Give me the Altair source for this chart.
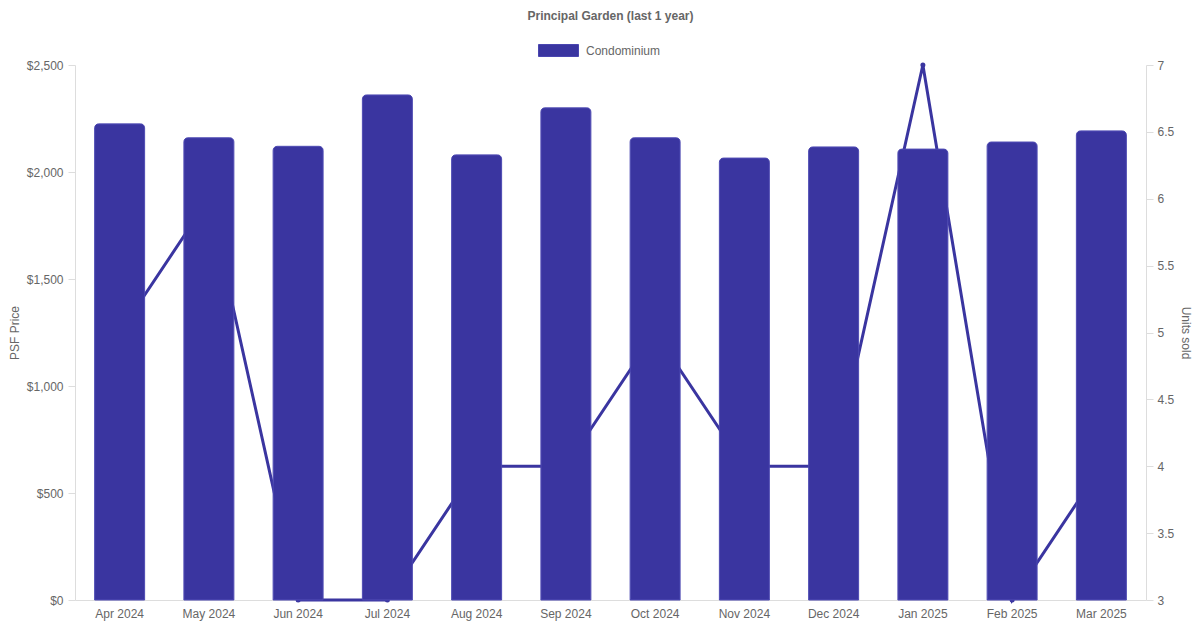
import altair as alt
import pandas as pd

months = ["Apr 2024", "May 2024", "Jun 2024", "Jul 2024", "Aug 2024", "Sep 2024",
          "Oct 2024", "Nov 2024", "Dec 2024", "Jan 2025", "Feb 2025", "Mar 2025"]
psf = [2225, 2160, 2120, 2360, 2080, 2300, 2160, 2065, 2117, 2107, 2140, 2192]
units = [5, 6, 3, 3, 4, 4, 5, 4, 4, 7, 3, 4]

df = pd.DataFrame({"month": months, "psf": psf, "units": units, "type": "Condominium"})

COLOR = "#3a35a0"
FONT = "Liberation Sans"

x = alt.X("month:N", sort=months, title=None,
          scale=alt.Scale(paddingInner=0.44, paddingOuter=0.22),
          axis=alt.Axis(labelAngle=0, labelColor="#666", labelFontSize=12, labelFont=FONT,
                        domainColor="#ddd", ticks=False, labelPadding=8))

line = alt.Chart(df).mark_line(color=COLOR, strokeWidth=3,
                               point=alt.OverlayMarkDef(color=COLOR, size=25, filled=True)).encode(
    x=x,
    y=alt.Y("units:Q", title="Units sold",
            scale=alt.Scale(domain=[3, 7], nice=False, zero=False),
            axis=alt.Axis(orient="right", values=[3, 3.5, 4, 4.5, 5, 5.5, 6, 6.5, 7], format="~g",
                          grid=False, labelColor="#666", labelFontSize=12, labelFont=FONT,
                          titleColor="#666", titleFontSize=12, titleFont=FONT, titleFontWeight="normal",
                          domainColor="#ddd", tickColor="#ddd", tickSize=7, labelPadding=4,
                          titleAngle=90, titlePadding=5)),
)

bars = alt.Chart(df).mark_bar(cornerRadiusTopLeft=4, cornerRadiusTopRight=4,
                              stroke="#4a46b0", strokeWidth=1).encode(
    x=x,
    y=alt.Y("psf:Q", title="PSF Price",
            scale=alt.Scale(domain=[0, 2500], nice=False),
            axis=alt.Axis(values=[0, 500, 1000, 1500, 2000, 2500], format="$,.0f",
                          gridColor="#e5e5e5", labelColor="#666", labelFontSize=12, labelFont=FONT,
                          titleColor="#666", titleFontSize=12, titleFont=FONT, titleFontWeight="normal",
                          domainColor="#ddd", tickColor="#ddd", tickSize=7, labelPadding=5,
                          titlePadding=5)),
    color=alt.Color("type:N", scale=alt.Scale(range=[COLOR]),
                    legend=alt.Legend(title=None, orient="none", legendX=463, legendY=-35,
                                      labelColor="#666", labelFontSize=12, labelFont=FONT,
                                      symbolType="M-1,-0.3H1V0.3H-1Z", symbolSize=1600,
                                      symbolStrokeColor="#4a46b0", symbolStrokeWidth=1,
                                      labelOffset=7)),
)

chart = alt.layer(line, bars).resolve_scale(y="independent").properties(
    width=1071, height=535,
    autosize=alt.AutoSizeParams(type="none"),
    padding={"left": 67, "top": 57, "right": 46, "bottom": 22},
    title=alt.TitleParams("Principal Garden (last 1 year)", fontSize=12, font=FONT,
                          fontWeight="bold", color="#666", offset=7),
).configure_view(stroke=None)

chart.save("out.html", embed_options={"renderer": "svg", "actions": False})
